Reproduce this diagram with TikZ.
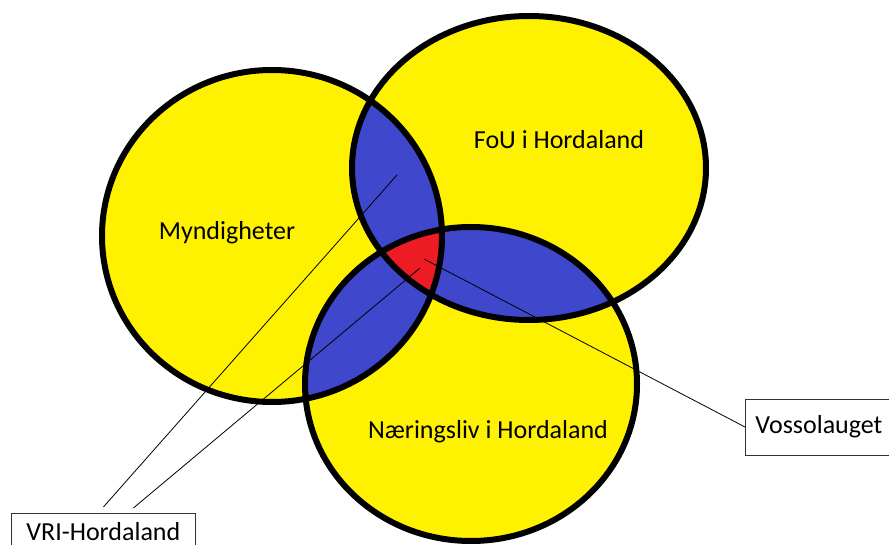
\documentclass[tikz,border=0pt]{standalone}
\usepackage{fontspec}
\setmainfont{Carlito}
\usepackage{tikz}

\definecolor{paintyellow}{RGB}{255,242,0}
\definecolor{paintblue}{RGB}{63,72,204}
\definecolor{paintred}{RGB}{237,28,36}

\def\myn{(272,236) ellipse [x radius=170pt, y radius=166pt]}
\def\fou{(529,168) ellipse [x radius=177pt, y radius=152pt]}
\def\nar{(471,384) ellipse [x radius=166pt, y radius=157pt]}

\begin{document}
\begin{tikzpicture}[x=1pt,y=-1pt,
    ring/.style={line width=6pt},
    navn/.style={font=\fontsize{26}{30}\selectfont},
    boks/.style={draw=black!80,line width=0.8pt,fill=white,
      inner xsep=10pt,font=\fontsize{26}{30}\selectfont},
    strek/.style={line width=0.8pt}]
  \useasboundingbox (0,0) rectangle (889,545);
  % the three sets
  \fill[paintyellow] \myn;
  \fill[paintyellow] \fou;
  \fill[paintyellow] \nar;
  \begin{scope}
    \clip \myn;
    \fill[paintblue] \fou;
    \fill[paintblue] \nar;
  \end{scope}
  \begin{scope}
    \clip \fou;
    \fill[paintblue] \nar;
  \end{scope}
  \begin{scope}
    \clip \myn; \clip \fou;
    \fill[paintred] \nar;
  \end{scope}
  \draw[ring] \myn \fou \nar;
  % labels
  \node[navn] (myndigheter) at (227,233) {Myndigheter};
  \node[navn] (fou) at (559,140) {FoU i Hordaland};
  \node[navn] (naering) at (488,432) {Næringsliv i Hordaland};
  \node[boks,anchor=north west,minimum width=184pt,minimum height=36pt] (vri) at (11,513) {VRI-Hordaland};
  \node[boks,anchor=west,minimum height=56pt] (vosso) at (745,427) {Vossolauget};
  % pointers
  \coordinate (myn-fou) at (397,175);
  \coordinate (alle-a) at (420,268);
  \coordinate (alle-b) at (424,259);
  \draw[strek] ([yshift=6pt]vri.north) -- (myn-fou);
  \draw[strek] ([xshift=30pt,yshift=5pt]vri.north) -- (alle-a);
  \draw[strek] (vosso.west) -- (alle-b);
\end{tikzpicture}
\end{document}
